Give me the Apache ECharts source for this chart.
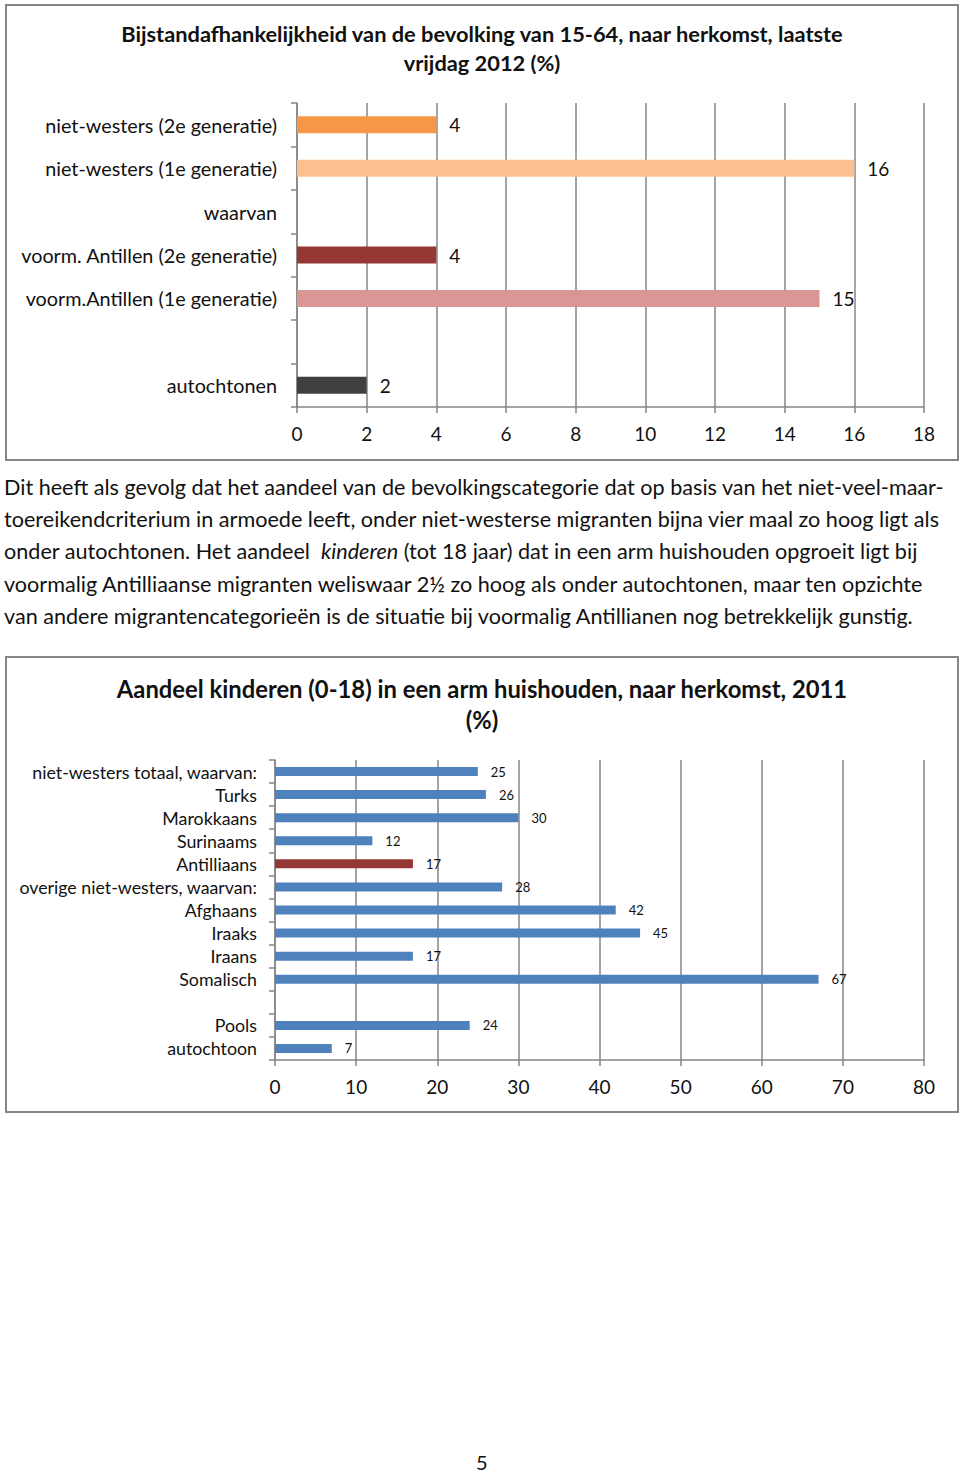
<!DOCTYPE html>
<html><head><meta charset="utf-8">
<script src="https://cdn.jsdelivr.net/npm/echarts@6/dist/echarts.min.js"></script>
<style>
html,body{margin:0;padding:0;background:#fff;}
#wrap{position:relative;width:960px;height:1474px;}
#chart{position:absolute;left:0;top:0;width:960px;height:1474px;}
.para{position:absolute;left:4px;font-family:Lato,"Open Sans",sans-serif;font-size:21.6px;color:#111;white-space:nowrap;}
#page{position:absolute;left:476px;top:1450px;font-family:Lato,sans-serif;font-size:20px;color:#111;}
</style></head>
<body><div id="wrap"><div id="chart"></div>
<div class="para" style="top:474px">Dit heeft als gevolg dat het aandeel van de bevolkingscategorie dat op basis van het niet-veel-maar-</div>
<div class="para" style="top:506px">toereikendcriterium in armoede leeft, onder niet-westerse migranten bijna vier maal zo hoog ligt als</div>
<div class="para" style="top:538px">onder autochtonen. Het aandeel&nbsp; <i>kinderen</i> (tot 18 jaar) dat in een arm huishouden opgroeit ligt bij</div>
<div class="para" style="top:571px">voormalig Antilliaanse migranten weliswaar 2½ zo hoog als onder autochtonen, maar ten opzichte</div>
<div class="para" style="top:603px">van andere migrantencategorieën is de situatie bij voormalig Antillianen nog betrekkelijk gunstig.</div>
<div id="page">5</div>
</div>
<script>
// Chart 1 data
const cats1 = ['niet-westers (2e generatie)', 'niet-westers (1e generatie)', 'waarvan', 'voorm. Antillen (2e generatie)', 'voorm.Antillen (1e generatie)', '', 'autochtonen'];
const vals1 = [4, 16, null, 4, 15, null, 2];
const colors1 = ['#F79646', '#FAC090', '#FAC090', '#953735', '#D99694', '#404040', '#404040'];
const ticks1 = [0, 2, 4, 6, 8, 10, 12, 14, 16, 18];
// Chart 2 data
const cats2 = ['niet-westers totaal, waarvan:', 'Turks', 'Marokkaans', 'Surinaams', 'Antilliaans', 'overige niet-westers, waarvan:', 'Afghaans', 'Iraaks', 'Iraans', 'Somalisch', '', 'Pools', 'autochtoon'];
const vals2 = [25, 26, 30, 12, 17, 28, 42, 45, 17, 67, null, 24, 7];
const colors2 = ['#4F81BD', '#4F81BD', '#4F81BD', '#4F81BD', '#953735', '#4F81BD', '#4F81BD', '#4F81BD', '#4F81BD', '#4F81BD', '#4F81BD', '#4F81BD', '#4F81BD'];
const ticks2 = [0, 10, 20, 30, 40, 50, 60, 70, 80];

const F = 'Lato, "Open Sans", sans-serif';
const gray = '#868686';
const chart = echarts.init(document.getElementById('chart'), null, {renderer: 'svg'});
function valAxis(gi, ticks, fs, margin) {
  return {
    type: 'value', gridIndex: gi, min: ticks[0], max: ticks[ticks.length - 1],
    interval: ticks[1] - ticks[0],
    axisLine: {show: true, lineStyle: {color: gray, width: 1.5}},
    axisTick: {show: true, length: 6, lineStyle: {color: gray, width: 1.5}},
    splitLine: {show: true, lineStyle: {color: gray, width: 1.5}},
    axisLabel: {fontFamily: F, fontSize: fs, color: '#111', margin: margin}
  };
}
function catAxis(gi, cats, fs, margin) {
  return {
    type: 'category', gridIndex: gi, data: cats, inverse: true,
    axisLine: {show: true, lineStyle: {color: gray, width: 1.5}},
    axisTick: {show: true, length: 6, lineStyle: {color: gray, width: 1.5}},
    axisLabel: {fontFamily: F, fontSize: fs, color: '#111', margin: margin, interval: 0}
  };
}
chart.setOption({
  animation: false,
  grid: [
    {left: 297, top: 103, width: 627, height: 304},
    {left: 275, top: 760, width: 649, height: 300}
  ],
  xAxis: [valAxis(0, ticks1, 19, 17), valAxis(1, ticks2, 19, 17)],
  yAxis: [catAxis(0, cats1, 19.8, 20), catAxis(1, cats2, 17.8, 18)],
  series: [
    {type: 'bar', xAxisIndex: 0, yAxisIndex: 0, barWidth: 17,
     data: vals1.map((v, i) => ({value: v, itemStyle: {color: colors1[i]}})),
     label: {show: true, position: 'right', distance: 13, fontFamily: F, fontSize: 19, color: '#111'}},
    {type: 'bar', xAxisIndex: 1, yAxisIndex: 1, barWidth: 9,
     data: vals2.map((v, i) => ({value: v, itemStyle: {color: colors2[i]}})),
     label: {show: true, position: 'right', distance: 13, fontFamily: F, fontSize: 13, color: '#111'}}
  ],
  graphic: [
    {type: 'rect', shape: {x: 6, y: 5, width: 952, height: 455}, style: {fill: 'none', stroke: gray, lineWidth: 2}},
    {type: 'rect', shape: {x: 6, y: 657, width: 952, height: 455}, style: {fill: 'none', stroke: gray, lineWidth: 2}},
    {type: 'text', x: 482, y: 19, style: {text: 'Bijstandafhankelijkheid van de bevolking van 15-64, naar herkomst, laatste\nvrijdag 2012 (%)', textAlign: 'center', font: 'bold 21.8px ' + F, lineHeight: 29, fill: '#111'}},
    {type: 'text', x: 482, y: 673, style: {text: 'Aandeel kinderen (0-18) in een arm huishouden, naar herkomst, 2011\n(%)', textAlign: 'center', font: 'bold 23.8px ' + F, lineHeight: 31, fill: '#111'}}
  ]
});
</script>
</body></html>
